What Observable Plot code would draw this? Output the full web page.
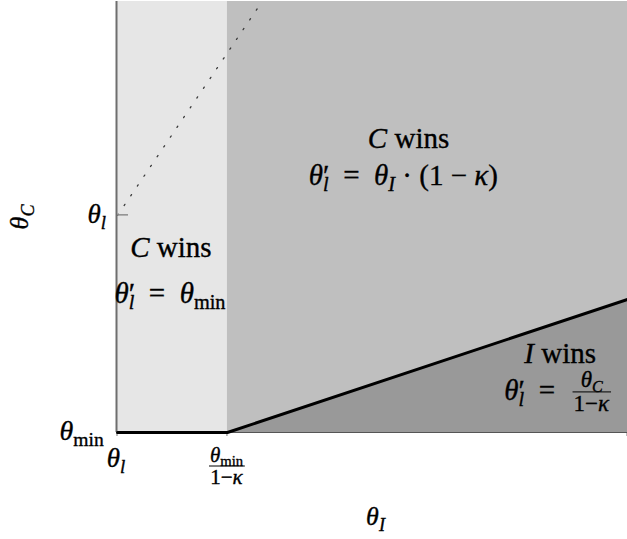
<!DOCTYPE html>
<html>
<head>
<meta charset="utf-8">
<script src="https://cdn.jsdelivr.net/npm/d3@7"></script>
<script src="https://cdn.jsdelivr.net/npm/@observablehq/plot@0.6"></script>
<style>
  body { margin: 0; background: #fff; }
  svg { display: block; }
  .rich text, .rich tspan { font-family: "Liberation Serif", "Times New Roman", serif; }
</style>
</head>
<body>
<div id="chart"></div>
<script>
// Model parameters (arbitrary units)
const thetaMin = 1;        // θ_min
const kappa = 0.775;       // κ
const thetaL = 2.97;       // θ_l
const thetaIMax = 9.81;    // right end of the θ_I axis
const thetaCMax = 4.91;    // top end of the θ_C axis
const xKink = thetaMin / (1 - kappa); // θ_min / (1 − κ)

// Regions of the (θ_I, θ_C) plane
const cLowRegion = [{x1: thetaL, x2: xKink, y1: thetaMin, y2: thetaCMax}];
const cHighRegion = [{x1: xKink, x2: thetaIMax, y1: thetaMin, y2: thetaCMax}];
const iWinsEdge = [xKink, thetaIMax].map(x => ({x, y: (1 - kappa) * x}));

// Boundary: θ_C = θ_min up to the kink, then θ_C = θ_I·(1 − κ)
const boundary = [{x: thetaL, y: thetaMin}, ...iWinsEdge];
// Diagonal θ_C = θ_I
const diagonal = [thetaL, thetaCMax].map(v => ({x: v, y: v}));

// Axis ticks
const xTickValues = [thetaL, xKink, thetaIMax];
const yTickValues = [thetaMin, thetaL];

// Text pieces (math spacing via en / thin spaces)
const EQ = "\u2002=\u2002";
const T = (t, o = {}) => ({t, ...o});
const thetaPrimeL = [T("θ", {it: 1}), T("′"), T("l", {sub: 1, it: 1, back: 1})];
const cWins = [T("C", {it: 1}), T(" wins")];
const iWins = [T("I", {it: 1}), T(" wins")];
const ruleMin = [...thetaPrimeL, T(EQ), T("θ", {it: 1}), T("min", {sub: 1})];
const ruleScaled = [...thetaPrimeL, T(EQ), T("θ", {it: 1}), T("I", {sub: 1, it: 1}), T(" · (1 − "), T("κ", {it: 1}), T(")")];
const ruleRatio = [...thetaPrimeL, T(EQ)];
const ratioNum = [T("θ", {it: 1}), T("C", {sub: 1, it: 1})];
const oneMinusKappa = [T("1−"), T("κ", {it: 1})];
const kinkNum = [T("θ", {it: 1}), T("min", {sub: 1})];
const thetaLText = [T("θ", {it: 1}), T("l", {sub: 1, it: 1})];
const thetaMinText = [T("θ", {it: 1}), T("min", {sub: 1})];
const axisXText = [T("θ", {it: 1}), T("I", {sub: 1, it: 1})];
const axisYText = [T("θ", {it: 1}), T("C", {sub: 1, it: 1})];

const FONT = "'Liberation Serif', 'Times New Roman', serif";

function richText(parent, segs, size, cls) {
  const text = parent.append("text").attr("class", cls).attr("font-size", size)
    .attr("text-anchor", "start").style("font-family", FONT)
    .attr("stroke", "black").attr("stroke-width", 0.35);
  let shift = 0;
  for (const s of segs) {
    const target = s.sub ? 0.22 * size : 0;
    const ts = text.append("tspan").text(s.t).attr("font-size", s.sub ? size * 0.7 : size);
    if (s.it) ts.attr("font-style", "italic");
    if (target !== shift) { ts.attr("dy", target - shift); shift = target; }
    if (s.back) ts.attr("data-back", 1);
  }
  return text;
}

// Mark that draws rich labels at positions derived from the scales
function labels(items) {
  return (index, scales, values, dimensions) => {
    const root = d3.create("svg:g").attr("fill", "black").style("font-family", FONT);
    for (const it of items) {
      const [px, py] = it.at(scales, dimensions);
      const g = root.append("g").attr("class", "rich").attr("data-anchor", it.anchor || "middle")
        .attr("transform", `translate(${px},${py})` + (it.rotate ? ` rotate(${it.rotate})` : ""));
      if (it.segs) richText(g, it.segs, it.size, "inline");
      if (it.frac) {
        const fs = it.frac.size;
        const barY = it.bar ?? -0.28 * it.size;
        richText(g, it.frac.num, fs, "num").attr("y", barY - 0.2 * fs);
        g.append("line").attr("class", "bar").attr("y1", barY).attr("y2", barY)
          .attr("stroke", "black").attr("stroke-width", 1);
        richText(g, it.frac.den, fs, "den").attr("y", barY + 0.85 * fs);
      }
    }
    return root.node();
  };
}

function layoutRich(svg) {
  svg.querySelectorAll("tspan[data-back]").forEach(ts => {
    const prev = ts.previousElementSibling;
    if (prev) ts.setAttribute("dx", -prev.getComputedTextLength());
  });
  svg.querySelectorAll("g.rich").forEach(g => {
    const anchor = g.getAttribute("data-anchor");
    const inline = g.querySelector("text.inline");
    const num = g.querySelector("text.num"), den = g.querySelector("text.den"), bar = g.querySelector("line.bar");
    const w1 = inline ? inline.getBBox().width : 0;
    const wn = num ? num.getBBox().width : 0, wd = den ? den.getBBox().width : 0;
    const wf = num ? Math.max(wn, wd) + 2 : 0;
    const gap = inline && num ? 3 : 0;
    const total = w1 + gap + wf;
    const start = anchor === "middle" ? -total / 2 : anchor === "end" ? -total : 0;
    if (inline) inline.setAttribute("x", start);
    if (num) {
      const cx = start + w1 + gap + wf / 2;
      num.setAttribute("x", cx - wn / 2);
      den.setAttribute("x", cx - wd / 2);
      bar.setAttribute("x1", cx - wf / 2);
      bar.setAttribute("x2", cx + wf / 2);
    }
  });
}

// Tick marks: short gray ticks below the θ_I axis, an inward tick on the θ_C axis
const tickMarks = (index, {x, y}) => {
  const g = d3.create("svg:g").attr("stroke", "#8c8c8c").attr("stroke-width", 1.2);
  for (const v of xTickValues) {
    g.append("line").attr("x1", x(v)).attr("x2", x(v)).attr("y1", y(thetaMin) + 1).attr("y2", y(thetaMin) + 4);
  }
  g.append("line").attr("x1", x(thetaL)).attr("x2", x(thetaL) + 11).attr("y1", y(thetaL)).attr("y2", y(thetaL))
    .attr("stroke-width", 1.5);
  return g.node();
};

const mainSize = 29;

const chart = Plot.plot({
  width: 627,
  height: 539,
  marginLeft: 117,
  marginRight: 0,
  marginTop: 1,
  marginBottom: 107,
  x: {domain: [thetaL, thetaIMax], axis: null},
  y: {domain: [thetaMin, thetaCMax], axis: null},
  style: {fontFamily: FONT, background: "#fff"},
  marks: [
    Plot.rect(cLowRegion, {x1: "x1", x2: "x2", y1: "y1", y2: "y2", fill: "#e6e6e6"}),
    Plot.rect(cHighRegion, {x1: "x1", x2: "x2", y1: "y1", y2: "y2", fill: "#bfbfbf"}),
    Plot.areaY(iWinsEdge, {x: "x", y1: thetaMin, y2: "y", fill: "#999999"}),
    Plot.ruleY([thetaMin], {stroke: "#555", strokeWidth: 1}),
    Plot.line(diagonal, {x: "x", y: "y", stroke: "#3a3a3a", strokeWidth: 1.3, strokeDasharray: "1.4,10.4"}),
    Plot.ruleX([thetaL], {stroke: "#6e6e6e", strokeWidth: 2, dx: -1}),
    tickMarks,
    Plot.line(boundary, {x: "x", y: "y", stroke: "black", strokeWidth: 3}),
    labels([
      // region labels
      {segs: cWins, size: mainSize, at: ({x, y}) => [x((thetaL + xKink) / 2) - 1, y(2.59)]},
      {segs: ruleMin, size: mainSize, at: ({x, y}) => [x((thetaL + xKink) / 2) - 2, y(2.17)]},
      {segs: cWins, size: mainSize, at: ({x, y}) => [x(6.88), y(3.58)]},
      {segs: ruleScaled, size: mainSize, at: ({x, y}) => [x(6.81), y(3.24)]},
      {segs: iWins, size: mainSize, at: ({x, y}) => [x(8.92), y(1.63)]},
      {segs: ruleRatio, size: mainSize, frac: {num: ratioNum, den: oneMinusKappa, size: 23},
        at: ({x, y}) => [x(8.88), y(1.29)]},
      // tick labels
      {segs: thetaLText, size: 27, at: ({x, y}) => [x(xTickValues[0]) - 1, y(thetaMin) + 35]},
      {frac: {num: kinkNum, den: oneMinusKappa, size: 21}, bar: 0, size: 27,
        at: ({x, y}) => [x(xTickValues[1]), y(thetaMin) + 34]},
      {segs: thetaMinText, size: 28, anchor: "end", at: ({x, y}) => [x(thetaL) - 13, y(yTickValues[0]) + 8]},
      {segs: thetaLText, size: 27, anchor: "end", at: ({x, y}) => [x(thetaL) - 11, y(yTickValues[1]) + 8]},
      // axis titles
      {segs: axisXText, size: 26,
        at: (s, d) => [(d.marginLeft + d.width - d.marginRight) / 2 + 4, d.height - 14]},
      {segs: axisYText, size: 26, rotate: -90,
        at: (s, d) => [28, (d.marginTop + d.height - d.marginBottom) / 2]}
    ])
  ]
});

document.getElementById("chart").append(chart);
layoutRich(chart);
</script>
</body>
</html>
